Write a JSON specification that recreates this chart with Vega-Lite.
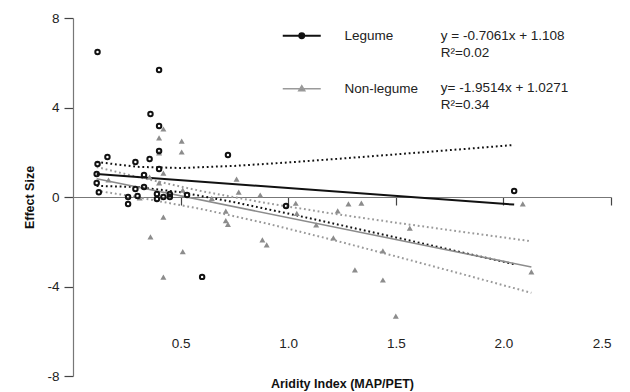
{
  "$schema": "https://vega.github.io/schema/vega-lite/v6.json",
  "autosize": {"type": "none"},
  "padding": {"left": 73, "top": 18, "right": 19, "bottom": 16},
  "width": 538,
  "height": 358,
  "background": "white",
  "config": {
    "view": {"stroke": null},
    "font": "Liberation Sans",
    "axis": {"labelFont": "Liberation Sans", "titleFont": "Liberation Sans", "labelColor": "#222", "titleColor": "#111", "domainColor": "#777", "tickColor": "#444", "grid": false, "labelFontSize": 13.5, "titleFontSize": 12.5, "titleFontWeight": "bold", "domainWidth": 1.2, "tickWidth": 1.2},
    "legend": {"labelFont": "Liberation Sans"}
  },
  "datasets": {
    "points": [
      {"group": "Legume", "ai": 0.114, "es": 6.48},
      {"group": "Legume", "ai": 0.40, "es": 5.68},
      {"group": "Legume", "ai": 0.36, "es": 3.71},
      {"group": "Legume", "ai": 0.40, "es": 3.17},
      {"group": "Legume", "ai": 0.40, "es": 2.06},
      {"group": "Legume", "ai": 0.356, "es": 1.70},
      {"group": "Legume", "ai": 0.16, "es": 1.79},
      {"group": "Legume", "ai": 0.29, "es": 1.56},
      {"group": "Legume", "ai": 0.72, "es": 1.88},
      {"group": "Legume", "ai": 0.114, "es": 1.47},
      {"group": "Legume", "ai": 0.11, "es": 1.03},
      {"group": "Legume", "ai": 0.33, "es": 0.98},
      {"group": "Legume", "ai": 0.40, "es": 1.25},
      {"group": "Legume", "ai": 0.11, "es": 0.63},
      {"group": "Legume", "ai": 0.12, "es": 0.21},
      {"group": "Legume", "ai": 0.29, "es": 0.36},
      {"group": "Legume", "ai": 0.33, "es": 0.45},
      {"group": "Legume", "ai": 0.256, "es": 0.0},
      {"group": "Legume", "ai": 0.30, "es": 0.04},
      {"group": "Legume", "ai": 0.256, "es": -0.31},
      {"group": "Legume", "ai": 0.39, "es": 0.13},
      {"group": "Legume", "ai": 0.39, "es": -0.09},
      {"group": "Legume", "ai": 0.42, "es": 0.0},
      {"group": "Legume", "ai": 0.45, "es": 0.13},
      {"group": "Legume", "ai": 0.45, "es": 0.0},
      {"group": "Legume", "ai": 0.53, "es": 0.09},
      {"group": "Legume", "ai": 0.99, "es": -0.40},
      {"group": "Legume", "ai": 0.60, "es": -3.57},
      {"group": "Legume", "ai": 2.05, "es": 0.27},
      {"group": "Non-legume", "ai": 0.42, "es": 3.04},
      {"group": "Non-legume", "ai": 0.40, "es": 2.64},
      {"group": "Non-legume", "ai": 0.505, "es": 2.50},
      {"group": "Non-legume", "ai": 0.505, "es": 2.01},
      {"group": "Non-legume", "ai": 0.40, "es": 1.97},
      {"group": "Non-legume", "ai": 0.42, "es": 1.07},
      {"group": "Non-legume", "ai": 0.356, "es": 0.89},
      {"group": "Non-legume", "ai": 0.40, "es": 0.63},
      {"group": "Non-legume", "ai": 0.165, "es": 0.76},
      {"group": "Non-legume", "ai": 0.76, "es": 0.80},
      {"group": "Non-legume", "ai": 0.77, "es": 0.22},
      {"group": "Non-legume", "ai": 0.87, "es": 0.09},
      {"group": "Non-legume", "ai": 0.51, "es": 0.31},
      {"group": "Non-legume", "ai": 0.31, "es": -0.04},
      {"group": "Non-legume", "ai": 0.42, "es": -0.90},
      {"group": "Non-legume", "ai": 0.36, "es": -1.78},
      {"group": "Non-legume", "ai": 0.51, "es": -2.44},
      {"group": "Non-legume", "ai": 0.42, "es": -3.58},
      {"group": "Non-legume", "ai": 0.71, "es": -0.63},
      {"group": "Non-legume", "ai": 0.71, "es": -1.06},
      {"group": "Non-legume", "ai": 0.72, "es": -1.22},
      {"group": "Non-legume", "ai": 0.88, "es": -1.92},
      {"group": "Non-legume", "ai": 0.90, "es": -2.14},
      {"group": "Non-legume", "ai": 1.04, "es": -0.73},
      {"group": "Non-legume", "ai": 0.645, "es": -0.06},
      {"group": "Non-legume", "ai": 1.035, "es": -0.28},
      {"group": "Non-legume", "ai": 1.23, "es": -0.62},
      {"group": "Non-legume", "ai": 1.28, "es": -0.31},
      {"group": "Non-legume", "ai": 1.34, "es": -0.27},
      {"group": "Non-legume", "ai": 1.13, "es": -1.25},
      {"group": "Non-legume", "ai": 1.21, "es": -1.83},
      {"group": "Non-legume", "ai": 1.565, "es": -1.39},
      {"group": "Non-legume", "ai": 1.44, "es": -2.41},
      {"group": "Non-legume", "ai": 1.31, "es": -3.26},
      {"group": "Non-legume", "ai": 1.44, "es": -3.71},
      {"group": "Non-legume", "ai": 1.50, "es": -5.32},
      {"group": "Non-legume", "ai": 2.09, "es": -0.31},
      {"group": "Non-legume", "ai": 2.13, "es": -3.35}
    ],
    "fits": [
      {"group": "Legume", "band": "fit", "ai": 0.11, "es": 1.030},
      {"group": "Legume", "band": "fit", "ai": 2.05, "es": -0.340},
      {"group": "Legume", "band": "upper", "ai": 0.11, "es": 1.563},
      {"group": "Legume", "band": "upper", "ai": 0.3, "es": 1.347},
      {"group": "Legume", "band": "upper", "ai": 0.5, "es": 1.296},
      {"group": "Legume", "band": "upper", "ai": 0.75, "es": 1.390},
      {"group": "Legume", "band": "upper", "ai": 1.0, "es": 1.545},
      {"group": "Legume", "band": "upper", "ai": 1.25, "es": 1.720},
      {"group": "Legume", "band": "upper", "ai": 1.5, "es": 1.905},
      {"group": "Legume", "band": "upper", "ai": 1.75, "es": 2.094},
      {"group": "Legume", "band": "upper", "ai": 2.05, "es": 2.324},
      {"group": "Legume", "band": "lower", "ai": 0.11, "es": 0.497},
      {"group": "Legume", "band": "lower", "ai": 0.3, "es": 0.446},
      {"group": "Legume", "band": "lower", "ai": 0.5, "es": 0.214},
      {"group": "Legume", "band": "lower", "ai": 0.75, "es": -0.233},
      {"group": "Legume", "band": "lower", "ai": 1.0, "es": -0.741},
      {"group": "Legume", "band": "lower", "ai": 1.25, "es": -1.269},
      {"group": "Legume", "band": "lower", "ai": 1.5, "es": -1.807},
      {"group": "Legume", "band": "lower", "ai": 1.75, "es": -2.349},
      {"group": "Legume", "band": "lower", "ai": 2.05, "es": -3.003},
      {"group": "Non-legume", "band": "fit", "ai": 0.11, "es": 0.812},
      {"group": "Non-legume", "band": "fit", "ai": 2.13, "es": -3.129},
      {"group": "Non-legume", "band": "upper", "ai": 0.11, "es": 1.341},
      {"group": "Non-legume", "band": "upper", "ai": 0.3, "es": 0.895},
      {"group": "Non-legume", "band": "upper", "ai": 0.6, "es": 0.256},
      {"group": "Non-legume", "band": "upper", "ai": 0.9, "es": -0.276},
      {"group": "Non-legume", "band": "upper", "ai": 1.2, "es": -0.732},
      {"group": "Non-legume", "band": "upper", "ai": 1.5, "es": -1.148},
      {"group": "Non-legume", "band": "upper", "ai": 1.8, "es": -1.547},
      {"group": "Non-legume", "band": "upper", "ai": 2.13, "es": -1.976},
      {"group": "Non-legume", "band": "lower", "ai": 0.11, "es": 0.283},
      {"group": "Non-legume", "band": "lower", "ai": 0.3, "es": -0.011},
      {"group": "Non-legume", "band": "lower", "ai": 0.6, "es": -0.544},
      {"group": "Non-legume", "band": "lower", "ai": 0.9, "es": -1.182},
      {"group": "Non-legume", "band": "lower", "ai": 1.2, "es": -1.898},
      {"group": "Non-legume", "band": "lower", "ai": 1.5, "es": -2.652},
      {"group": "Non-legume", "band": "lower", "ai": 1.8, "es": -3.423},
      {"group": "Non-legume", "band": "lower", "ai": 2.13, "es": -4.283}
    ],
    "equations": [
      {"group": "Legume", "label": "y =  -0.7061x + 1.108\nR²=0.02"},
      {"group": "Non-legume", "label": "y= -1.9514x + 1.0271\nR²=0.34"}
    ]
  },
  "layer": [
    {
      "data": {"name": "fits"},
      "transform": [{"filter": "datum.band !== 'fit'"}],
      "mark": {"type": "line", "strokeDash": [1.8, 2.8], "strokeWidth": 2, "strokeCap": "butt"},
      "encoding": {
        "x": {"field": "ai", "type": "quantitative", "scale": {"domain": [0, 2.5], "nice": false, "zero": false},
          "axis": {"orient": "bottom", "offset": -179, "values": [0.5, 1, 1.5, 2, 2.5], "format": ".1f", "tickSize": 8, "labelPadding": 131, "title": "Aridity Index (MAP/PET)", "titlePadding": 28}},
        "y": {"field": "es", "type": "quantitative", "scale": {"domain": [-8, 8], "nice": false},
          "axis": {"values": [-8, -4, 0, 4, 8], "labelExpr": "'' + datum.value", "tickSize": 9, "labelPadding": 5, "title": "Effect Size", "titlePadding": 10}},
        "color": {"field": "group", "type": "nominal", "scale": {"domain": ["Legume", "Non-legume"], "range": ["#111111", "#9a9a9a"]},
          "legend": {"orient": "none", "legendX": 222, "legendY": 11, "title": null, "symbolType": "M-1,0H1", "rowPadding": 38, "labelOffset": 36, "labelFontSize": 13.5, "labelColor": "#222", "padding": 0,
            "encode": {"symbols": {"update": {
              "shape": {"signal": "datum.value === 'Legume' ? 'M-1,0H1M-0.13,0A0.13,0.13,0,1,0,0.13,0A0.13,0.13,0,1,0,-0.13,0Z' : 'M-1,0H1M-0.16,0.11L0,-0.16L0.16,0.11Z'"},
              "size": {"value": 1444},
              "stroke": {"signal": "datum.value === 'Legume' ? '#111111' : '#8c8c8c'"},
              "fill": {"signal": "datum.value === 'Legume' ? '#111111' : '#8c8c8c'"},
              "strokeWidth": {"signal": "datum.value === 'Legume' ? 2 : 1.5"},
              "opacity": {"value": 1},
              "strokeDash": {"value": []}
            }}}}},
        "detail": {"field": "band"}
      }
    },
    {
      "data": {"name": "fits"},
      "transform": [{"filter": "datum.band === 'fit' && datum.group === 'Legume'"}],
      "mark": {"type": "line", "color": "#111111", "strokeWidth": 2},
      "encoding": {
        "x": {"field": "ai", "type": "quantitative"},
        "y": {"field": "es", "type": "quantitative"}
      }
    },
    {
      "data": {"name": "fits"},
      "transform": [{"filter": "datum.band === 'fit' && datum.group === 'Non-legume'"}],
      "mark": {"type": "line", "color": "#8c8c8c", "strokeWidth": 1.6},
      "encoding": {
        "x": {"field": "ai", "type": "quantitative"},
        "y": {"field": "es", "type": "quantitative"}
      }
    },
    {
      "data": {"name": "points"},
      "transform": [{"filter": "datum.group === 'Non-legume'"}],
      "mark": {"type": "point", "shape": "triangle-up", "filled": true, "color": "#8c8c8c", "size": 36, "opacity": 1},
      "encoding": {
        "x": {"field": "ai", "type": "quantitative"},
        "y": {"field": "es", "type": "quantitative"}
      }
    },
    {
      "data": {"name": "points"},
      "transform": [{"filter": "datum.group === 'Legume'"}],
      "mark": {"type": "point", "shape": "circle", "filled": false, "color": "#111111", "strokeWidth": 2, "size": 20, "opacity": 1},
      "encoding": {
        "x": {"field": "ai", "type": "quantitative"},
        "y": {"field": "es", "type": "quantitative"}
      }
    },
    {
      "data": {"name": "equations"},
      "transform": [{"filter": "datum.group === 'Legume'"}],
      "mark": {"type": "text", "align": "left", "baseline": "top", "lineBreak": "\n", "fontSize": 13.5, "lineHeight": 17, "color": "#222"},
      "encoding": {
        "x": {"datum": 1.709, "type": "quantitative"},
        "y": {"datum": 7.5, "type": "quantitative"},
        "text": {"field": "label"}
      }
    },
    {
      "data": {"name": "equations"},
      "transform": [{"filter": "datum.group === 'Non-legume'"}],
      "mark": {"type": "text", "align": "left", "baseline": "top", "lineBreak": "\n", "fontSize": 13.5, "lineHeight": 17, "color": "#222"},
      "encoding": {
        "x": {"datum": 1.709, "type": "quantitative"},
        "y": {"datum": 5.2, "type": "quantitative"},
        "text": {"field": "label"}
      }
    }
  ]
}
